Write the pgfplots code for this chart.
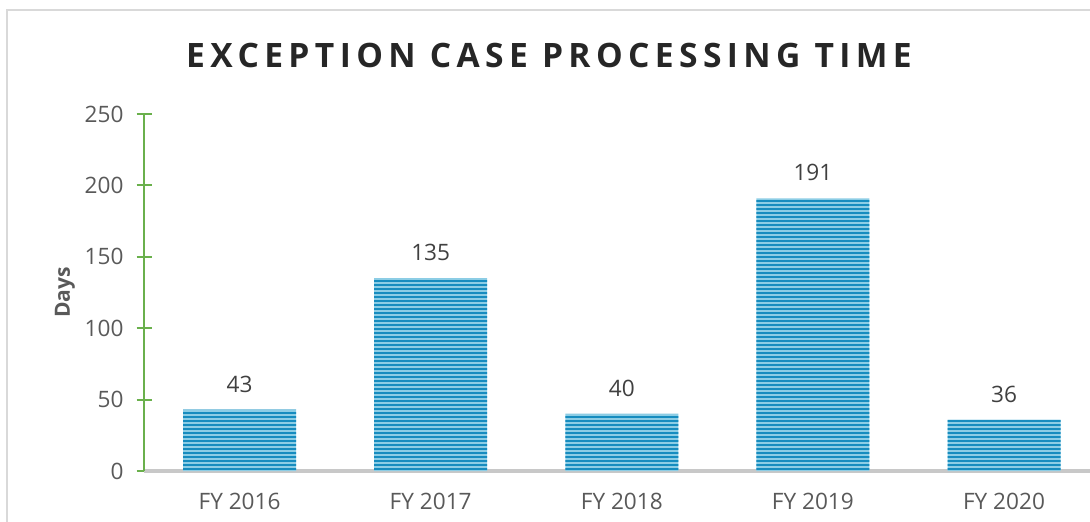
\documentclass[border=0pt]{standalone}
\usepackage{fontspec}
\setmainfont{Open Sans}
\usepackage{pgfplots}
\pgfplotsset{compat=1.18}
\usetikzlibrary{patterns.meta}
\definecolor{barlight}{HTML}{8CCDE5}
\definecolor{bardark}{HTML}{168CBF}
\definecolor{titlecol}{HTML}{262626}
\definecolor{tickcol}{HTML}{595959}
\definecolor{labcol}{HTML}{404040}
\definecolor{ygreen}{HTML}{6AB04C}
\definecolor{xgray}{HTML}{C8C8C8}
\definecolor{framegray}{HTML}{D9D9D9}
\begin{document}
\begin{tikzpicture}[x=1pt,y=1pt]
\useasboundingbox (0,0) rectangle (545,260.5);
\draw[color=framegray, line width=1pt] (3.5,-20) rectangle (600,255.5);
\node[font=\bfseries\fontsize{16.8}{20}\selectfont\addfontfeature{LetterSpace=16}, text=titlecol] at (274.5,233) {EXCEPTION CASE PROCESSING TIME};
\begin{axis}[
  at={(72pt,25pt)}, anchor=south west,
  scale only axis, width=473pt, height=178.5pt,
  ymin=0, ymax=250, xmin=-0.5, xmax=4.45,
  axis x line=bottom, axis y line=left,
  x axis line style={draw=xgray, line width=2pt, -},
  y axis line style={draw=ygreen, line width=1pt, -},
  ytick={0,50,100,150,200,250},
  ytick style={draw=ygreen, line width=1pt},
  major tick length=7.5pt, ytick align=center,
  xtick=data, xtick style={draw=none},
  xticklabels={FY 2016,FY 2017,FY 2018,FY 2019,FY 2020},
  ticklabel style={font=\fontsize{11.3}{13}\selectfont, text=tickcol},
  yticklabel style={xshift=-3pt},
  /pgf/number format/assume math mode=true,
  ylabel={Days},
  ylabel style={at={(axis description cs:-0.0835,0.5)}, anchor=center, font=\bfseries\fontsize{10.5}{12}\selectfont, text=tickcol},
  ybar, bar width=56.5pt,
  nodes near coords,
  every node near coord/.append style={font=\fontsize{11.3}{13}\selectfont, text=labcol, yshift=5pt},
]
\addplot[fill=barlight, draw=none, postaction={pattern={Lines[angle=0, distance=2pt, line width=1pt]}, pattern color=bardark}]
  coordinates {(0,43) (1,135) (2,40) (3,191) (4,36)};
\end{axis}
\end{tikzpicture}
\end{document}
